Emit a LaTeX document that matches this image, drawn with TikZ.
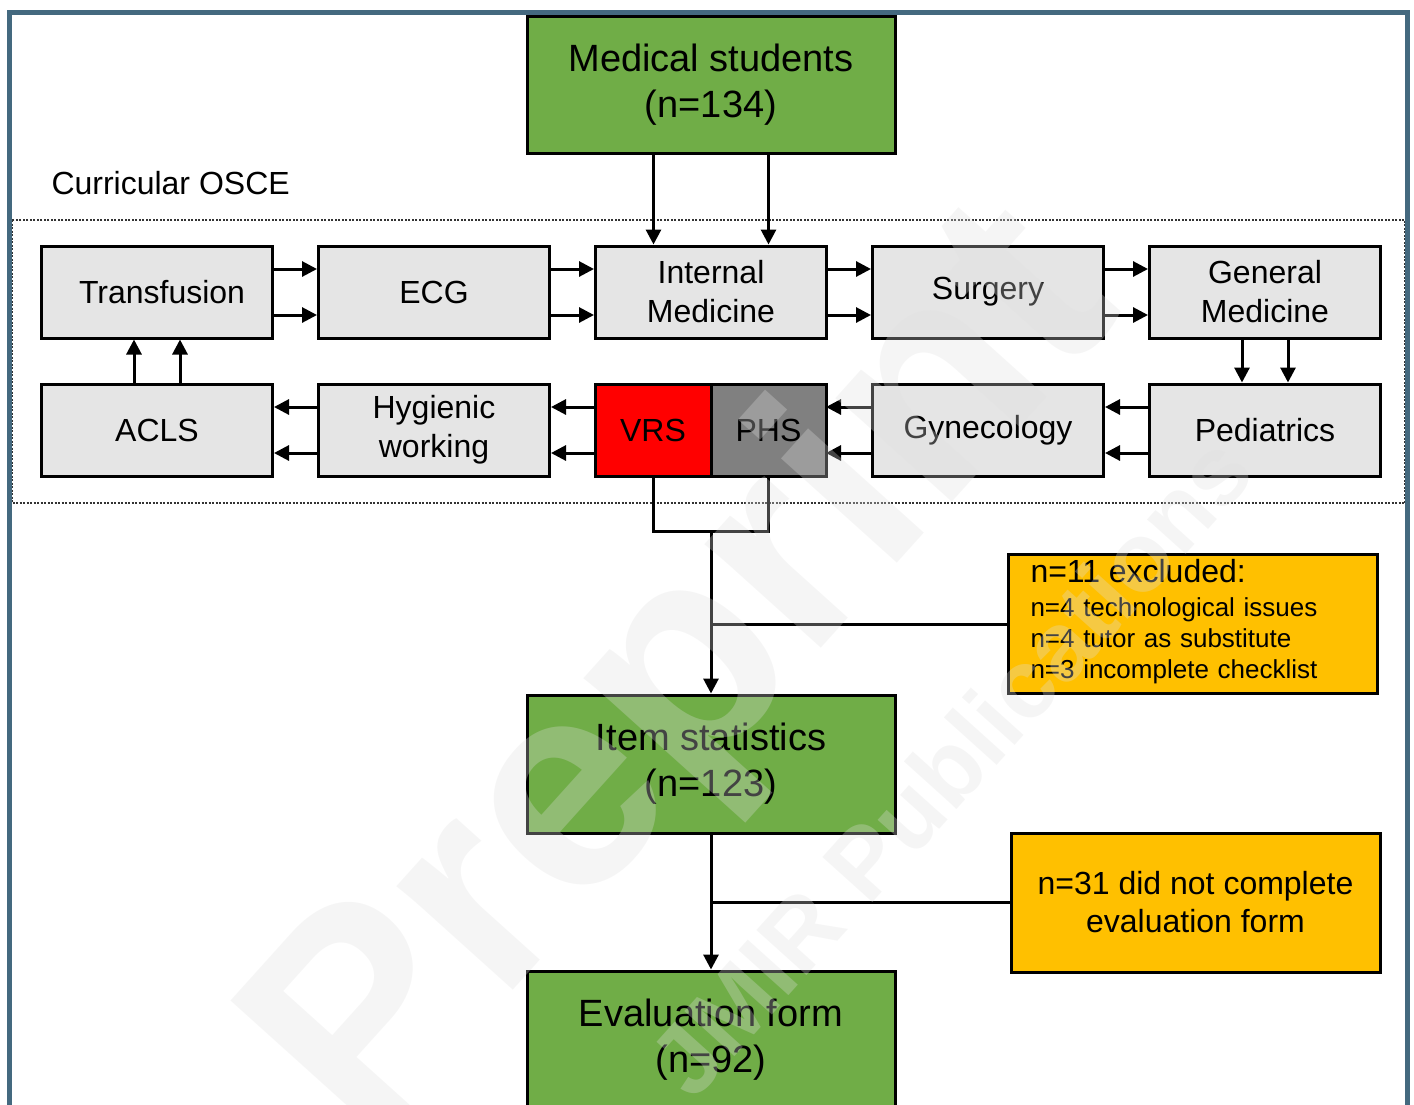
\documentclass[tikz,border=0pt]{standalone}
\usepackage{fontspec}
\setmainfont{Liberation Sans}
\usetikzlibrary{positioning,arrows.meta}
\definecolor{boxgreen}{HTML}{70AD47}
\definecolor{boxgray}{HTML}{E5E5E5}
\definecolor{boxorange}{HTML}{FFC000}
\definecolor{vrsred}{HTML}{FF0000}
\definecolor{phsgray}{HTML}{808080}
\definecolor{framecol}{HTML}{44697F}
\tikzset{
  every node/.style={text=black, draw=black, line width=3pt, font=\fontsize{32}{39}\selectfont},
  station/.style={fill=boxgray, minimum width=231pt, minimum height=92pt, align=center, inner sep=0pt},
  count/.style={fill=boxgreen, minimum width=368pt, minimum height=137pt, align=center, font=\fontsize{38}{46}\selectfont},
  excluded/.style={fill=boxorange, minimum width=369pt, minimum height=139pt},
  flow/.style={-{Triangle[length=15pt,width=15pt]}},
  osceframe/.style={draw=black!80, line width=2.5pt, dash pattern=on 2pt off 1.5pt},
  watermark/.style={draw=none, rotate=48, text=gray!25, text opacity=0.3}
}

\begin{document}
\begin{tikzpicture}[x=1pt, y=-1pt, line width=3pt]
  \useasboundingbox (0,0) rectangle (1414,1104);
  \clip (0,0) rectangle (1414,1104);

  % OSCE area
  \draw[osceframe] (12,220) rectangle (1405,503);

  % Nodes
  \node (students) [count] at (711,85) {Medical students\\(n=134)};
  \node (osce) [draw=none, anchor=west, inner sep=0pt] at (50,183) {Curricular OSCE};

  \node (transfusion) [station] at (157,292) {\hspace*{10pt}Transfusion};
  \node (ecg) [station, right=43pt of transfusion] {ECG};
  \node (intmed) [station, right=43pt of ecg] {Internal\\Medicine};
  \node (surgery) [station, right=43pt of intmed] {Surgery};
  \node (genmed) [station, right=43pt of surgery] {General\\Medicine};

  \node (acls) [station, below=43pt of transfusion] {ACLS};
  \node (hygienic) [station, right=43pt of acls] {Hygienic\\working};
  \node (vrs) [station, fill=vrsred, minimum width=116pt, outer sep=0pt] at (653,430) {VRS};
  \node (phs) [station, fill=phsgray, minimum width=115pt, outer sep=0pt, right=0pt of vrs] {PHS};
  \node (gynecology) [station, below=43pt of surgery] {Gynecology};
  \node (pediatrics) [station, below=43pt of genmed] {Pediatrics};

  \node (itemstats) [count, minimum height=138pt] at (711,764) {Item statistics\\(n=123)};
  \node (evaluation) [count, minimum height=138pt] at (711,1040) {Evaluation form\\(n=92)};

  \node (excl1) [excluded, text width=324pt, inner xsep=22.5pt, font=\fontsize{26}{31}\selectfont] at (1192.5,624) {%
    \noindent\begin{tabular}{@{}l@{}}
      \fontsize{32}{35}\selectfont n=11 excluded:\\[3pt]
      n=4 technological issues\\
      n=4 tutor as substitute\\
      n=3 incomplete checklist
    \end{tabular}%
  };
  \node (excl2) [excluded, align=center, font=\fontsize{32}{38}\selectfont] at (1195.5,902.5) {n=31 did not complete\\evaluation form};

  % Connectors
  \draw[flow] ([xshift=-57.5pt]students.south) -- ([xshift=-57.5pt]intmed.north);
  \draw[flow] ([xshift=57.5pt]students.south) -- ([xshift=57.5pt]intmed.north);

  \foreach \a/\b in {transfusion/ecg, ecg/intmed, intmed/surgery, surgery/genmed}
    \foreach \s in {23pt,-23pt}
      \draw[flow] ([yshift=\s]\a.east) -- ([yshift=\s]\b.west);

  \foreach \a/\b in {pediatrics/gynecology, gynecology/phs, vrs/hygienic, hygienic/acls}
    \foreach \s in {23pt,-23pt}
      \draw[flow] ([yshift=\s]\a.west) -- ([yshift=\s]\b.east);

  \foreach \s in {-23pt,23pt} {
    \draw[flow] ([xshift=\s]genmed.south) -- ([xshift=\s]pediatrics.north);
    \draw[flow] ([xshift=\s]acls.north) -- ([xshift=\s]transfusion.south);
  }

  \coordinate (join) at (711,531);
  \draw (vrs.south) |- (join) -| (phs.south);
  \draw[flow] (join) -- (itemstats.north);
  \draw (excl1.west) -- (excl1.west -| join);
  \draw[flow] (itemstats.south) -- (evaluation.north);
  \draw (excl2.west) -- (excl2.west -| itemstats.south);

  % Watermark
  \node (wmpre) [watermark, font=\fontsize{295}{295}\selectfont\bfseries] at (690,680) {Preprint};
  \node (wmjmir) [watermark, font=\fontsize{98}{98}\selectfont\bfseries] at (950,765) {JMIR Publications};

  % Outer frame
  \draw[framecol, line width=5pt] (9.5,12) rectangle (1407.5,1200);
\end{tikzpicture}
\end{document}
